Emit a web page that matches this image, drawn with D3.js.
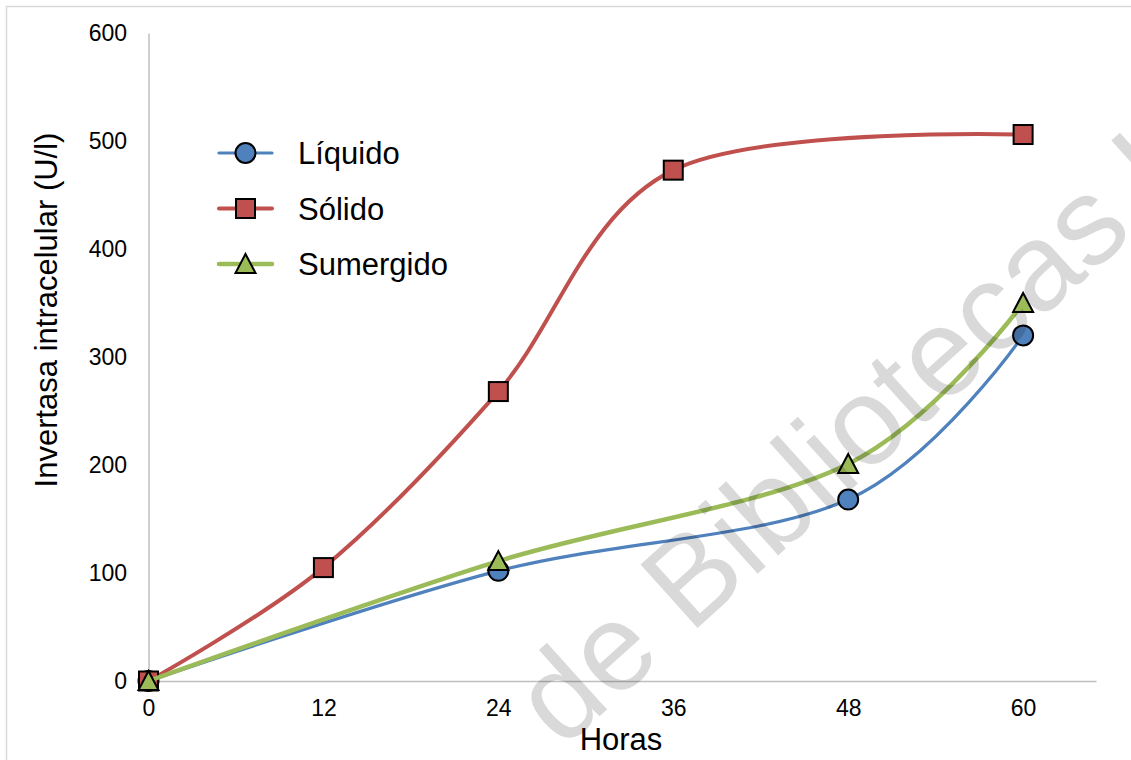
<!DOCTYPE html>
<html>
<head>
<meta charset="utf-8">
<script src="https://cdn.jsdelivr.net/npm/d3@7"></script>
<style>
  html, body { margin: 0; padding: 0; background: #fff; }
  svg { display: block; font-family: "Liberation Sans", Arial, sans-serif; }
</style>
</head>
<body>
<svg id="chart" width="1131" height="760"></svg>
<script>
// Intracellular invertase activity over time for three culture types
const horasLiquido = [0, 24, 48, 60];
const liquido = [0, 102, 168, 320];
const horasSolido = [0, 12, 24, 36, 60];
const solido = [0, 105, 268, 473, 506];
const horasSumergido = [0, 24, 48, 60];
const sumergido = [0, 111, 201, 350];

const xTicks = [0, 12, 24, 36, 48, 60];
const yTicks = [0, 100, 200, 300, 400, 500, 600];

const series = [
  { name: "Líquido", x: horasLiquido, y: liquido, color: "#4F81BD", width: 3.2, marker: "circle" },
  { name: "Sólido", x: horasSolido, y: solido, color: "#C0504D", width: 4, marker: "square" },
  { name: "Sumergido", x: horasSumergido, y: sumergido, color: "#9BBB59", width: 4.5, marker: "triangle" }
];

const svg = d3.select("#chart");

// outer chart frame
svg.append("rect")
  .attr("x", 6.5).attr("y", 6.5)
  .attr("width", 1200).attr("height", 800)
  .attr("fill", "#fff").attr("stroke", "#d9d9d9").attr("stroke-width", 1.5);

const x = d3.scaleLinear().domain([0, 65]).range([148.5, 1096]);
const y = d3.scaleLinear().domain([0, 600]).range([681, 33]);

// axes
const yAxis = svg.append("g").attr("transform", `translate(${x(0)},0)`)
  .call(d3.axisLeft(y).tickValues(yTicks).tickSize(0).tickPadding(21.5));
const xAxis = svg.append("g").attr("transform", `translate(0,${y(0)})`)
  .call(d3.axisBottom(x).tickValues(xTicks).tickSize(0).tickPadding(19));
[xAxis, yAxis].forEach(a => {
  a.attr("font-size", 23).attr("font-family", "Liberation Sans, Arial, sans-serif");
  a.select(".domain").attr("stroke", "#bfbfbf").attr("stroke-width", 1.5);
  a.selectAll("text").attr("fill", "#000");
});

// axis titles
svg.append("text")
  .attr("x", 621).attr("y", 750)
  .attr("text-anchor", "middle").attr("font-size", 31)
  .text("Horas");
svg.append("text")
  .attr("transform", "translate(57,310) rotate(-90)")
  .attr("text-anchor", "middle").attr("font-size", 31)
  .text("Invertasa intracelular (U/l)");

const line = d3.line()
  .x(d => x(d[0])).y(d => y(d[1]))
  .curve(d3.curveCardinal.tension(0));

function drawMarker(g, type, cx, cy, color) {
  if (type === "circle") {
    g.append("circle").attr("cx", cx).attr("cy", cy).attr("r", 10)
      .attr("fill", color).attr("stroke", "#000").attr("stroke-width", 2);
  } else if (type === "square") {
    g.append("rect").attr("x", cx - 9.5).attr("y", cy - 9.5)
      .attr("width", 19).attr("height", 19)
      .attr("fill", color).attr("stroke", "#000").attr("stroke-width", 2);
  } else {
    g.append("path")
      .attr("d", `M${cx},${cy - 10}L${cx + 10},${cy + 9}L${cx - 10},${cy + 9}Z`)
      .attr("fill", color).attr("stroke", "#000").attr("stroke-width", 2)
      .attr("stroke-linejoin", "miter");
  }
}

// series lines and markers
series.forEach(s => {
  const pts = s.x.map((h, i) => [h, s.y[i]]);
  const g = svg.append("g");
  g.append("path").attr("d", line(pts))
    .attr("fill", "none").attr("stroke", s.color).attr("stroke-width", s.width)
    .attr("stroke-linecap", "round");
  pts.forEach(p => drawMarker(g, s.marker, x(p[0]), y(p[1]), s.color));
});

// legend
const legend = svg.append("g");
series.forEach((s, i) => {
  const ly = 153 + i * 55.5;
  legend.append("line").attr("x1", 219).attr("x2", 272).attr("y1", ly).attr("y2", ly)
    .attr("stroke", s.color).attr("stroke-width", s.width).attr("stroke-linecap", "round");
  drawMarker(legend, s.marker, 245.5, ly, s.color);
  legend.append("text").attr("x", 298).attr("y", ly + 11)
    .attr("font-size", 31).text(s.name);
});

// watermark
svg.append("text")
  .attr("transform", "translate(562,750) rotate(-42)")
  .attr("font-size", 124)
  .attr("fill", "#000").attr("fill-opacity", 0.15)
  .text("de Bibliotecas U");
</script>
</body>
</html>
